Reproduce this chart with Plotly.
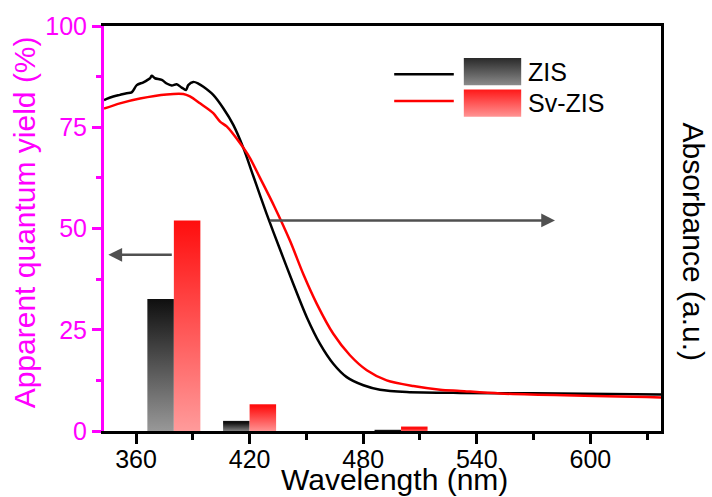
import plotly.graph_objects as go

# ---- data -------------------------------------------------------------
# UV-vis absorbance spectra (arbitrary units)
zis_wl = [343.1, 344.5, 348.0, 351.5, 355.1, 357.7, 360.4, 363.9, 367.4, 368.3,
          370.0, 373.6, 376.2, 378.9, 381.5, 384.1, 386.4, 387.6, 390.3, 392.9,
          395.6, 400.8, 406.1, 411.4, 416.7, 422.0, 429.0, 436.1, 443.1, 450.2,
          457.2, 464.2, 471.3, 480.1, 488.9, 503.0, 531.2, 569.7, 637.3]
zis_abs = [0.817, 0.820, 0.826, 0.830, 0.834, 0.836, 0.854, 0.861, 0.871, 0.877,
           0.871, 0.867, 0.858, 0.853, 0.856, 0.848, 0.842, 0.854, 0.862, 0.858,
           0.850, 0.830, 0.797, 0.756, 0.699, 0.629, 0.536, 0.448, 0.363, 0.281,
           0.215, 0.166, 0.133, 0.113, 0.102, 0.0966, 0.0941, 0.0930, 0.0902]

sv_wl = [343.1, 351.5, 362.1, 376.2, 385.0, 388.5, 393.8, 400.8, 404.4, 407.9,
         414.9, 420.2, 425.5, 433.0, 441.4, 448.4, 455.5, 464.2, 473.0, 481.9,
         492.4, 506.5, 520.6, 531.2, 552.3, 637.3]
sv_abs = [0.796, 0.809, 0.821, 0.831, 0.832, 0.826, 0.809, 0.785, 0.764, 0.752,
          0.711, 0.674, 0.625, 0.555, 0.469, 0.387, 0.314, 0.240, 0.187, 0.150,
          0.125, 0.111, 0.102, 0.099, 0.0926, 0.0828]

# Apparent quantum yield (%) at the monochromatic wavelengths
aqy_wl = [380, 420, 500]
aqy_zis = [32.6, 2.5, 0.3]
aqy_sv = [52.0, 6.6, 1.1]

x_ticks = [360, 420, 480, 540, 600]
y_ticks = [0, 25, 50, 75, 100]

# ---- styling ----------------------------------------------------------
FONT = "Liberation Sans, Arial, sans-serif"
MAGENTA = "#ff00ff"
BAR_W = 14  # nm per bar
ZIS_SCALE = [[0, "#9a9a9a"], [1, "#101010"]]
SV_SCALE = [[0, "#ff9c9c"], [1, "#ff0e0e"]]

fig = go.Figure()


def gradient_rect(x0, x1, y0, y1, scale, xaxis="x", yaxis="y"):
    return go.Scatter(
        x=[x0, x0, x1, x1, x0], y=[y0, y1, y1, y0, y0],
        mode="lines", line=dict(width=0), fill="toself",
        fillgradient=dict(type="vertical", colorscale=scale, start=y0, stop=y1),
        hoverinfo="skip", showlegend=False, xaxis=xaxis, yaxis=yaxis,
    )


# AQY bars: ZIS on the left, Sv-ZIS on the right of each wavelength
for wl, v_zis, v_sv in zip(aqy_wl, aqy_zis, aqy_sv):
    fig.add_trace(gradient_rect(wl - BAR_W, wl, 0, v_zis, ZIS_SCALE))
    fig.add_trace(gradient_rect(wl, wl + BAR_W, 0, v_sv, SV_SCALE))

# absorbance curves
fig.add_trace(go.Scatter(x=zis_wl, y=zis_abs, mode="lines", yaxis="y2",
                         line=dict(color="black", width=2.5, shape="spline", smoothing=0.8),
                         showlegend=False, name="ZIS"))
fig.add_trace(go.Scatter(x=sv_wl, y=sv_abs, mode="lines", yaxis="y2",
                         line=dict(color="#ff0000", width=2.5, shape="spline", smoothing=0.8),
                         showlegend=False, name="Sv-ZIS"))

# custom legend swatches (overlay axes spanning the plot area)
fig.add_trace(gradient_rect(0.646, 0.749, 0.854, 0.921,
                            [[0, "#8c8c8c"], [1, "#2a2a2a"]], "x3", "y3"))
fig.add_trace(gradient_rect(0.646, 0.749, 0.776, 0.843,
                            [[0, "#ff9696"], [1, "#ff1a1a"]], "x3", "y3"))

shapes = [
    dict(type="line", xref="paper", yref="paper", x0=0.521, x1=0.628, y0=0.881, y1=0.881,
         line=dict(color="black", width=2.5)),
    dict(type="line", xref="paper", yref="paper", x0=0.521, x1=0.628, y0=0.815, y1=0.815,
         line=dict(color="#ff0000", width=2.5)),
]

annotations = [
    dict(xref="paper", yref="paper", x=0.758, y=0.887, text="ZIS", showarrow=False,
         xanchor="left", yanchor="middle", font=dict(family=FONT, size=25, color="black")),
    dict(xref="paper", yref="paper", x=0.758, y=0.811, text="Sv-ZIS", showarrow=False,
         xanchor="left", yanchor="middle", font=dict(family=FONT, size=25, color="black")),
    # axis titles
    dict(xref="paper", yref="paper", x=-0.142, y=0.515, text="Apparent quantum yield (%)",
         showarrow=False, textangle=-90, xanchor="center", yanchor="middle",
         font=dict(family=FONT, size=30, color=MAGENTA)),
    dict(xref="paper", yref="paper", x=1.058, y=0.467, text="Absorbance (a.u.)",
         showarrow=False, textangle=90, xanchor="center", yanchor="middle",
         font=dict(family=FONT, size=30, color="black")),
    dict(xref="paper", yref="paper", x=0.521, y=-0.12, text="Wavelength (nm)",
         showarrow=False, xanchor="center", yanchor="middle",
         font=dict(family=FONT, size=30, color="black")),
    # arrows pointing to the relevant axes
    dict(x=345.4, y=43.5, ax=379.7, ay=43.5, xref="x", yref="y", axref="x", ayref="y",
         showarrow=True, arrowhead=2, arrowsize=1.1, arrowwidth=2.5, arrowcolor="#505050", text=""),
    dict(x=581.3, y=52.0, ax=429.9, ay=52.0, xref="x", yref="y", axref="x", ayref="y",
         showarrow=True, arrowhead=2, arrowsize=1.1, arrowwidth=2.5, arrowcolor="#505050", text=""),
]

fig.update_layout(
    width=712, height=497,
    margin=dict(l=104, r=51, t=24, b=66),
    paper_bgcolor="white", plot_bgcolor="white",
    font=dict(family=FONT, color="black"),
    showlegend=False,
    shapes=shapes,
    annotations=annotations,
    xaxis=dict(
        range=[343.1, 637.3], tickvals=x_ticks, showgrid=False, zeroline=False,
        showline=True, linecolor="black", linewidth=3, mirror=True,
        ticks="outside", ticklen=10, tickwidth=2.5, tickcolor="black",
        ticklabelstandoff=-6,
        minor=dict(tickvals=[330, 390, 450, 510, 570, 630], ticklen=6, tickwidth=2.5,
                   tickcolor="black", ticks="outside"),
        tickfont=dict(family=FONT, size=25, color="black"),
    ),
    yaxis=dict(
        range=[0, 100], tickvals=y_ticks, showgrid=False, zeroline=False,
        showline=True, linecolor=MAGENTA, linewidth=3,
        ticks="outside", ticklen=9, tickwidth=2.5, tickcolor=MAGENTA,
        minor=dict(tickvals=[12.5, 37.5, 62.5, 87.5], ticklen=5, tickwidth=2.5,
                   tickcolor=MAGENTA, ticks="outside"),
        tickfont=dict(family=FONT, size=25, color=MAGENTA),
    ),
    yaxis2=dict(
        range=[0, 1], overlaying="y", side="right", showgrid=False, zeroline=False,
        showline=True, linecolor="black", linewidth=3, ticks="", showticklabels=False,
    ),
    xaxis3=dict(range=[0, 1], domain=[0, 1], overlaying="x", visible=False, fixedrange=True),
    yaxis3=dict(range=[0, 1], domain=[0, 1], overlaying="y", visible=False, fixedrange=True),
)

fig.write_html("out.html")
